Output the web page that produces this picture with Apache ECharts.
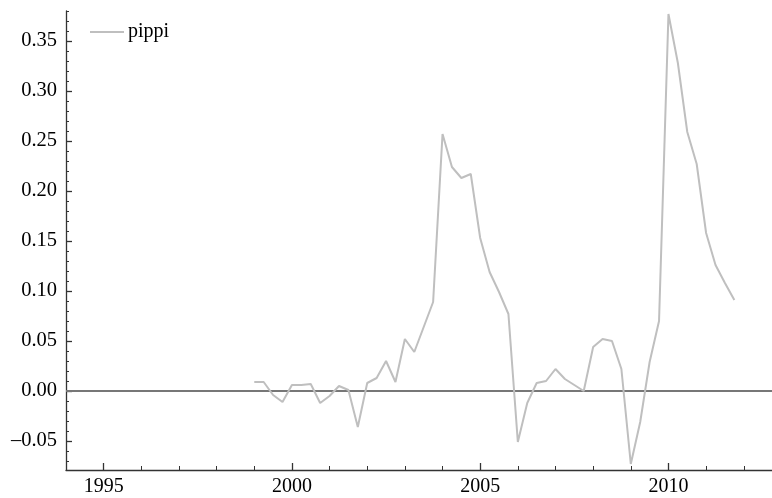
<!DOCTYPE html>
<html>
<head>
<meta charset="utf-8">
<script src="https://cdn.jsdelivr.net/npm/echarts@6/dist/echarts.min.js"></script>
<style>
  html, body { margin: 0; padding: 0; background: #fff; }
  #chart { width: 772px; height: 498px; }
</style>
</head>
<body>
<div id="chart"></div>
<script>
// Quarterly observations, 1999 Q1 through 2011 Q4
const quarters = [
  1999.00, 1999.25, 1999.50, 1999.75,
  2000.00, 2000.25, 2000.50, 2000.75,
  2001.00, 2001.25, 2001.50, 2001.75,
  2002.00, 2002.25, 2002.50, 2002.75,
  2003.00, 2003.25, 2003.50, 2003.75,
  2004.00, 2004.25, 2004.50, 2004.75,
  2005.00, 2005.25, 2005.50, 2005.75,
  2006.00, 2006.25, 2006.50, 2006.75,
  2007.00, 2007.25, 2007.50, 2007.75,
  2008.00, 2008.25, 2008.50, 2008.75,
  2009.00, 2009.25, 2009.50, 2009.75,
  2010.00, 2010.25, 2010.50, 2010.75,
  2011.00, 2011.25, 2011.50, 2011.75
];
const pippi = [
  0.009, 0.009, -0.004, -0.011,
  0.006, 0.006, 0.007, -0.012,
  -0.005, 0.005, 0.001, -0.036,
  0.008, 0.013, 0.030, 0.009,
  0.052, 0.039, 0.064, 0.089,
  0.257, 0.224, 0.213, 0.217,
  0.153, 0.119, 0.099, 0.077,
  -0.051, -0.012, 0.008, 0.010,
  0.022, 0.012, 0.006, 0.000,
  0.044, 0.052, 0.050, 0.022,
  -0.073, -0.031, 0.029, 0.070,
  0.377, 0.328, 0.259, 0.227,
  0.158, 0.126, 0.108, 0.091
];
const xMajorTicks = [1995, 2000, 2005, 2010];
const yMajorTicks = [-0.05, 0.00, 0.05, 0.10, 0.15, 0.20, 0.25, 0.30, 0.35];

const X_MIN = 1994, X_MAX = 2012.75;
const Y_MIN = -0.079, Y_MAX = 0.38;

// minor ticks: every year on x, every 0.01 on y
const xMinorTicks = [];
for (let y = 1994; y <= 2012; y++) xMinorTicks.push(y);
const yMinorTicks = [];
for (let i = -7; i <= 38; i++) yMinorTicks.push(+(i / 100).toFixed(2));

const FONT = '"Liberation Serif", "DejaVu Serif", serif';
const AXIS_COLOR = '#333';

const chart = echarts.init(document.getElementById('chart'), null, { renderer: 'canvas' });

chart.setOption({
  animation: false,
  backgroundColor: '#fff',
  grid: { left: 66, right: 0, top: 11, bottom: 28, containLabel: false },
  legend: {
    left: 85, top: 17,
    icon: 'rect', itemWidth: 34, itemHeight: 2, itemGap: 10,
    textStyle: { fontFamily: FONT, fontSize: 20, color: '#000', padding: [0, 0, 0, -1] },
    data: ['pippi']
  },
  xAxis: [
    {
      type: 'value', min: X_MIN, max: X_MAX, position: 'bottom',
      axisLine: { onZero: false, lineStyle: { color: AXIS_COLOR, width: 1.3 } },
      axisTick: { inside: true, length: 4, customValues: xMinorTicks, lineStyle: { color: AXIS_COLOR, width: 1 } },
      axisLabel: { customValues: xMajorTicks, margin: 7, fontFamily: FONT, fontSize: 20, color: '#000', formatter: v => String(v) },
      splitLine: { show: false }
    },
    {
      type: 'value', min: X_MIN, max: X_MAX, position: 'bottom',
      axisLine: { show: false, onZero: false },
      axisTick: { inside: true, length: 7, customValues: xMajorTicks, lineStyle: { color: AXIS_COLOR, width: 1.3 } },
      axisLabel: { show: false },
      splitLine: { show: false }
    }
  ],
  yAxis: [
    {
      type: 'value', min: Y_MIN, max: Y_MAX, position: 'left',
      axisLine: { show: true, onZero: false, lineStyle: { color: AXIS_COLOR, width: 1.3 } },
      axisTick: { show: true, inside: true, length: 3, customValues: yMinorTicks, lineStyle: { color: AXIS_COLOR, width: 1 } },
      axisLabel: {
        customValues: yMajorTicks, margin: 9, fontFamily: FONT, fontSize: 20.5, color: '#000',
        formatter: v => (v < 0 ? '\u2013' : '') + Math.abs(v).toFixed(2)
      },
      splitLine: { show: false }
    },
    {
      type: 'value', min: Y_MIN, max: Y_MAX, position: 'left',
      axisLine: { show: false, onZero: false },
      axisTick: { show: true, inside: true, length: 6, customValues: yMajorTicks, lineStyle: { color: AXIS_COLOR, width: 1.3 } },
      axisLabel: { show: false },
      splitLine: { show: false }
    }
  ],
  series: [
    {
      name: 'pippi',
      type: 'line',
      xAxisIndex: 0, yAxisIndex: 0,
      data: quarters.map((q, i) => [q, pippi[i]]),
      showSymbol: false, symbol: 'none',
      color: '#bfbfbf',
      lineStyle: { color: '#bfbfbf', width: 2 },
      z: 3,
      markLine: {
        silent: true, symbol: 'none', z: 2,
        label: { show: false },
        lineStyle: { color: '#777', width: 2, type: 'solid' },
        data: [{ yAxis: 0 }]
      }
    }
  ]
});
</script>
</body>
</html>
